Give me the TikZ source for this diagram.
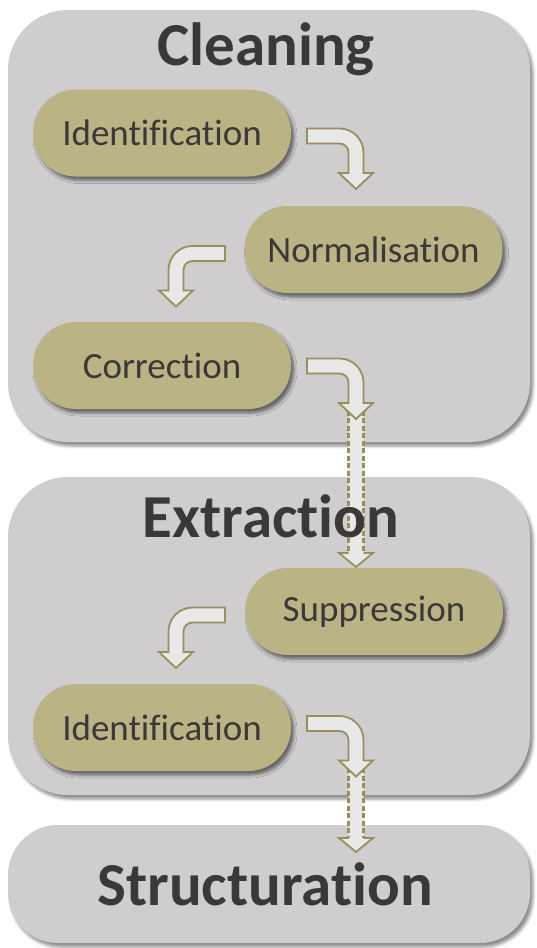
\documentclass[tikz,border=0pt]{standalone}
\usepackage{fontspec}
\setmainfont{Carlito}[Ligatures={NoCommon,NoRequired,NoContextual}]
\usetikzlibrary{shadows.blur,calc}
\definecolor{boxgrey}{HTML}{CFCDCE}
\definecolor{khaki}{HTML}{BAB383}
\definecolor{oliveline}{HTML}{998F5A}
\definecolor{arrowbg}{HTML}{E8E8E8}
\definecolor{txt}{HTML}{3B3838}
\tikzset{
  bigbox/.style={fill=boxgrey, rounded corners=60pt, minimum width=522pt, inner sep=0pt,
    blur shadow={shadow xshift=3pt, shadow yshift=-4pt, shadow blur radius=3pt, shadow opacity=45}},
  title/.style={anchor=base, text=txt, font=\bfseries\fontsize{61}{70}\selectfont, inner sep=0pt},
  stepbox/.style={fill=khaki, rounded corners=43pt, minimum width=258pt, minimum height=87pt, inner sep=0pt,
    text=txt, font=\fontsize{37}{42}\selectfont,
    blur shadow={shadow xshift=3pt, shadow yshift=-4pt, shadow blur radius=3pt, shadow opacity=50}},
  arrowline/.style={draw=oliveline, line width=1.8pt, fill=arrowbg, line join=miter},
  dashside/.style={draw=oliveline, line width=2.1pt, dash pattern=on 5pt off 2.5pt},
  headline/.style={draw=oliveline, line width=1.8pt, line join=miter},
  bentarrow/.pic={
    \path[arrowline] (0,-7.5) -- (32.5,-7.5) arc[start angle=-90,end angle=0,radius=24]
      -- (56.5,37) -- (66,37) -- (49,53) -- (32,37) -- (41.5,37) -- (41.5,16.5)
      arc[start angle=0,end angle=-90,radius=9] -- (0,7.5) -- cycle;
  }
}
\begin{document}
\begin{tikzpicture}[x=1pt,y=-1pt]
\useasboundingbox (0,0) rectangle (536,948);
% outer boxes
\node[bigbox, minimum height=432pt] (cleanbox) at (269,226) {};
\node[bigbox, minimum height=318pt] (extrbox) at (269,636) {};
\node[bigbox, minimum height=118pt, rounded corners=50pt] (strbox) at (269,884) {};
% arrow anchors
\coordinate (a1) at (307,136);
\coordinate (a2) at (225,253.5);
\coordinate (a3) at (307,366);
\coordinate (a4) at (225,615);
\coordinate (a5) at (307,723.5);
% dashed long arrows
\begin{scope}[shift={(a3)}]
  \path[fill=arrowbg] (41.5,30) -- (41.5,187) -- (32,187) -- (49,201) -- (66,187) -- (56.5,187) -- (56.5,30) -- cycle;
  \draw[dashside] (41.5,37) -- (41.5,187) (56.5,37) -- (56.5,187);
  \draw[headline] (41.5,187) -- (32,187) -- (49,201) -- (66,187) -- (56.5,187);
\end{scope}
\begin{scope}[shift={(a5)}]
  \path[fill=arrowbg] (41.5,30) -- (41.5,114.5) -- (32,114.5) -- (49,128.5) -- (66,114.5) -- (56.5,114.5) -- (56.5,30) -- cycle;
  \draw[dashside] (41.5,37) -- (41.5,114.5) (56.5,37) -- (56.5,114.5);
  \draw[headline] (41.5,114.5) -- (32,114.5) -- (49,128.5) -- (66,114.5) -- (56.5,114.5);
\end{scope}
% titles
\node[title] (tclean) at (266,65) {Cleaning};
\node[title] (textr) at (271,537) {Extraction};
\node[title] (tstr) at (265,905) {Structuration};
% step nodes
\node[stepbox] (ident1) at (162,133) {Identification};
\node[stepbox] (norm) at (373.5,249.5) {Normalisation};
\node[stepbox] (corr) at (162,365.5) {Correction};
\node[stepbox] (supp) at (374,611.5) {Suppression};
\node[stepbox] (ident2) at (162,727.5) {Identification};
% bent arrows
\pic at (a1) {bentarrow};
\pic[xscale=-1] at (a2) {bentarrow};
\pic at (a3) {bentarrow};
\pic[xscale=-1] at (a4) {bentarrow};
\pic at (a5) {bentarrow};
\end{tikzpicture}
\end{document}
